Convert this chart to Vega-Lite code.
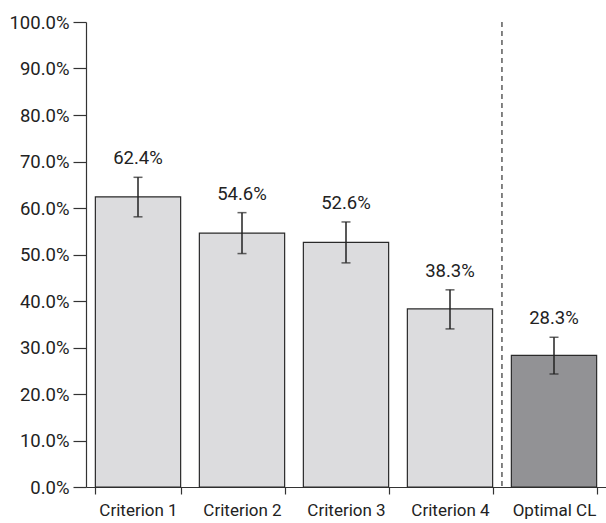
{
  "$schema": "https://vega.github.io/schema/vega-lite/v6.json",
  "width": 520,
  "height": 465,
  "autosize": "none",
  "padding": {"left": 86, "top": 22, "right": 0, "bottom": 36},
  "background": "white",
  "config": {
    "view": {"stroke": null},
    "font": "Roboto, Liberation Sans, sans-serif"
  },
  "data": {
    "values": [
      {"cat": "Criterion 1", "v": 0.624, "lo": 0.581, "hi": 0.666, "grp": "criterion"},
      {"cat": "Criterion 2", "v": 0.546, "lo": 0.502, "hi": 0.590, "grp": "criterion"},
      {"cat": "Criterion 3", "v": 0.526, "lo": 0.482, "hi": 0.570, "grp": "criterion"},
      {"cat": "Criterion 4", "v": 0.383, "lo": 0.340, "hi": 0.424, "grp": "criterion"},
      {"cat": "Optimal CL", "v": 0.283, "lo": 0.243, "hi": 0.322, "grp": "optimal"}
    ]
  },
  "encoding": {
    "x": {
      "field": "cat", "type": "nominal", "sort": null,
      "scale": {"paddingInner": 0.18, "paddingOuter": 0.09},
      "axis": {
        "title": null, "labelAngle": 0, "labelFontSize": 17, "labelColor": "#222",
        "labelPadding": 8, "tickBand": "extent", "tickSize": 7, "tickColor": "#333",
        "domainColor": "#333", "tickWidth": 1.2, "domainWidth": 1.2
      }
    }
  },
  "layer": [
    {
      "mark": {"type": "bar", "stroke": "#2a2a2a", "strokeWidth": 1.2},
      "encoding": {
        "y": {
          "field": "v", "type": "quantitative",
          "scale": {"domain": [0, 1], "nice": false},
          "axis": {
            "title": null, "format": ".1%", "values": [0, 0.1, 0.2, 0.3, 0.4, 0.5, 0.6, 0.7, 0.8, 0.9, 1.0],
            "grid": false, "labelFontSize": 18.5, "labelColor": "#222", "tickSize": 13,
            "tickColor": "#333", "domainColor": "#333", "labelPadding": 4, "tickWidth": 1.2, "domainWidth": 1.2
          }
        },
        "fill": {
          "field": "grp", "type": "nominal",
          "scale": {"domain": ["criterion", "optimal"], "range": ["#dcdcde", "#929295"]},
          "legend": null
        }
      }
    },
    {
      "mark": {"type": "rule", "color": "#222", "strokeWidth": 1.5},
      "encoding": {
        "y": {"field": "lo", "type": "quantitative"},
        "y2": {"field": "hi"}
      }
    },
    {
      "mark": {"type": "tick", "color": "#222", "size": 9, "thickness": 1.5},
      "encoding": {"y": {"field": "lo", "type": "quantitative"}}
    },
    {
      "mark": {"type": "tick", "color": "#222", "size": 9, "thickness": 1.5},
      "encoding": {"y": {"field": "hi", "type": "quantitative"}}
    },
    {
      "mark": {"type": "text", "baseline": "alphabetic", "dy": -13, "fontSize": 18.5, "color": "#222"},
      "encoding": {
        "y": {"field": "hi", "type": "quantitative"},
        "text": {"field": "v", "type": "quantitative", "format": ".1%"}
      }
    },
    {
      "transform": [{"filter": "datum.cat === 'Optimal CL'"}],
      "mark": {"type": "rule", "color": "#333", "strokeWidth": 1.2, "strokeDash": [5, 4], "xOffset": -9.4},
      "encoding": {
        "x": {"field": "cat", "type": "nominal", "sort": null, "bandPosition": 0}
      }
    }
  ]
}
